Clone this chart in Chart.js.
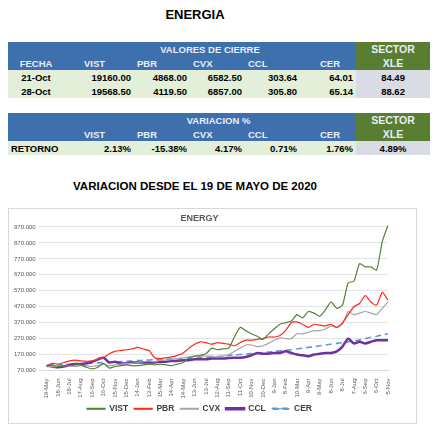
<!DOCTYPE html>
<html>
<head>
<meta charset="utf-8">
<script src="https://cdn.jsdelivr.net/npm/chart.js@4/dist/chart.umd.min.js"></script>
<style>
  body { margin: 0; width: 440px; height: 434px; background: #fff; font-family: "Liberation Sans", Arial, sans-serif; position: relative; overflow: hidden; }
  .title { position: absolute; top: 7px; left: 0; width: 390px; text-align: center; font-weight: bold; font-size: 13px; }
  table { position: absolute; left: 8px; border-collapse: collapse; table-layout: fixed; width: 422px; font-size: 9.5px; font-weight: bold; }
  td { height: 14px; padding: 0 3px; white-space: nowrap; }
  .h td { background: #3f70ae; color: #e8eef8; text-align: left; }
  .h td.g { background: #5a7d34; color: #e8eef8; text-align: center; font-size: 10.5px; }
  .d td { background: #e3efd9; text-align: right; }
  .d td.x { background: #d9dce5; text-align: center; }
  .c { text-align: center !important; }
  .sub { position: absolute; top: 180px; left: 0; width: 390px; text-align: center; font-weight: bold; font-size: 11.5px; }
  .box { position: absolute; left: 8px; top: 208px; width: 407px; height: 214px; border: 1px solid #d9d9d9; }
</style>
</head>
<body>
<div class="title">ENERGIA</div>
<table style="top:42px">
  <colgroup><col style="width:56px"><col style="width:70px"><col style="width:56px"><col style="width:55px"><col style="width:55px"><col style="width:56px"><col style="width:74px"></colgroup>
  <tr class="h"><td></td><td colspan="5" class="c">VALORES DE CIERRE</td><td class="g">SECTOR</td></tr>
  <tr class="h"><td class="c">FECHA</td><td style="padding-left:20px">VIST</td><td>PBR</td><td>CVX</td><td>CCL</td><td style="padding-left:20px">CER</td><td class="g">XLE</td></tr>
  <tr class="d"><td class="c">21-Oct</td><td>19160.00</td><td>4868.00</td><td>6582.50</td><td>303.64</td><td>64.01</td><td class="x">84.49</td></tr>
  <tr class="d"><td class="c">28-Oct</td><td>19568.50</td><td>4119.50</td><td>6857.00</td><td>305.80</td><td>65.14</td><td class="x">88.62</td></tr>
</table>
<table style="top:113px">
  <colgroup><col style="width:56px"><col style="width:70px"><col style="width:56px"><col style="width:55px"><col style="width:55px"><col style="width:56px"><col style="width:74px"></colgroup>
  <tr class="h"><td></td><td colspan="5" class="c" style="padding-left:20px">VARIACION %</td><td class="g">SECTOR</td></tr>
  <tr class="h"><td></td><td style="padding-left:20px">VIST</td><td>PBR</td><td>CVX</td><td>CCL</td><td style="padding-left:20px">CER</td><td class="g">XLE</td></tr>
  <tr class="d"><td style="text-align:left">RETORNO</td><td>2.13%</td><td>-15.38%</td><td>4.17%</td><td>0.71%</td><td>1.76%</td><td class="x">4.89%</td></tr>
</table>
<div class="sub">VARIACION DESDE EL 19 DE MAYO DE 2020</div>
<div class="box"><canvas id="my-chart" width="407" height="214"></canvas></div>
<script>
var tickLabels = ["19-May","18-Jun","18-Jul","17-Aug","16-Sep","16-Oct","15-Nov","15-Dec","14-Jan","13-Feb","15-Mar","14-Apr","14-May","13-Jun","13-Jul","12-Aug","11-Sep","11-Oct","10-Nov","10-Dec","9-Jan","8-Feb","10-Mar","9-Apr","9-May","8-Jun","8-Jul","7-Aug","6-Sep","6-Oct","5-Nov"];
var categories = [];
tickLabels.forEach(function (t, i) {
  categories.push(t);
  if (i < tickLabels.length - 1) categories.push("");
});

var vist = [100,105,95,100,100,105,105,90,80,90,115,85,95,100,105,100,100,105,110,105,110,105,100,110,120,150,160,165,175,210,200,205,210,280,340,320,300,285,265,300,330,360,370,380,420,400,440,430,410,450,500,460,480,620,630,740,720,720,700,880,980];
var pbr = [100,115,110,120,130,135,130,128,130,140,150,175,190,195,200,205,215,205,195,150,145,150,155,165,180,210,235,250,245,235,245,240,235,225,245,260,260,265,270,280,280,290,320,370,375,360,340,360,355,350,360,340,370,420,470,490,540,500,480,560,510];
var cvx = [100,95,95,100,100,95,100,100,95,100,110,100,105,110,115,115,120,125,130,125,135,135,140,145,150,155,160,160,160,160,155,160,170,190,210,230,230,220,225,240,260,275,270,270,300,300,310,320,320,330,350,340,360,440,420,430,440,430,420,460,500];
var ccl = [100,95,90,95,105,110,110,115,125,140,150,120,125,115,115,120,120,120,120,120,125,125,130,130,135,135,140,140,140,145,145,145,148,150,150,155,165,180,175,175,180,180,190,180,170,165,160,170,175,180,180,190,220,270,240,250,240,250,260,260,260];
var cer = [100,102,104,106,108,110,112,114,116,118,120,122,124,126,128,130,132,134,136,138,140,141,142,143,144,146,148,150,152,155,158,161,164,167,170,173,176,179,182,185,190,193,197,200,205,210,215,220,225,230,235,240,245,250,255,262,270,278,285,293,300];
var yTicks = [70,170,270,370,470,570,670,770,870,970];

function line(label, data, color, width, dash) {
  return { label: label, data: data, borderColor: color, backgroundColor: color, borderWidth: width,
    borderDash: dash || [], pointRadius: 0, tension: 0.2 };
}

new Chart(document.getElementById("my-chart").getContext("2d"), {
  type: "line",
  data: {
    labels: categories,
    datasets: [
      line("VIST", vist, "#548235", 1.2),
      line("PBR", pbr, "#ff2a1a", 1.2),
      line("CVX", cvx, "#a6a6a6", 1.2),
      line("CCL", ccl, "#7030a0", 2.5),
      line("CER", cer, "#5b9bd5", 1.6, [6, 4])
    ]
  },
  options: {
    responsive: false,
    animation: false,
    layout: { padding: { left: 2, right: 28, top: 0, bottom: 0 } },
    plugins: {
      title: { display: true, text: "ENERGY", color: "#595959", font: { size: 9, weight: "bold" }, padding: { top: 4, bottom: 0 } },
      legend: { position: "bottom", labels: { boxWidth: 18, boxHeight: 1, color: "#404040", font: { size: 8.5, weight: "bold" }, padding: 6 } }
    },
    scales: {
      x: {
        grid: { display: false },
        border: { color: "#d9d9d9" },
        ticks: { autoSkip: false, maxRotation: 90, minRotation: 90, color: "#595959", font: { size: 6 }, padding: 0,
          callback: function (v, i) { return i % 2 === 0 ? categories[i] : null; } }
      },
      y: {
        min: 70, max: 990,
        afterBuildTicks: function (axis) { axis.ticks = yTicks.map(function (v) { return { value: v }; }); },
        grid: { color: "#e3e3e3" },
        border: { display: false },
        ticks: { color: "#595959", font: { size: 6 }, callback: function (v) { return v + ".000"; } }
      }
    }
  }
});
</script>
</body>
</html>
